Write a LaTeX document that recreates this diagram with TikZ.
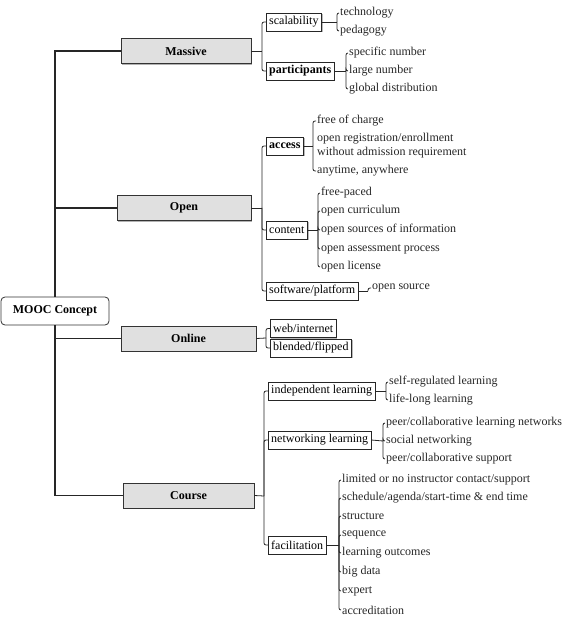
\documentclass[tikz,border=0pt]{standalone}
\usepackage{fontspec}
\setmainfont{Liberation Serif}
\usetikzlibrary{shadows}

\tikzset{
  mainbox/.style={draw=black!80, thick, fill=black!12, minimum height=25pt, font=\fontsize{12}{14}\selectfont\bfseries,
    drop shadow={shadow xshift=1.2pt, shadow yshift=-1.2pt, fill=black!60}},
  subbox/.style={draw=black!85, fill=white, anchor=west, inner xsep=3pt, inner ysep=2pt, minimum height=18pt, font=\fontsize{12}{14}\selectfont,
    drop shadow={shadow xshift=1pt, shadow yshift=-1pt, fill=black!55}},
  leaf/.style={anchor=west, inner sep=1pt, text=black!85, font=\fontsize{12}{14}\selectfont},
  link/.style={draw=black!85, line width=1.2pt},
  hook/.style={draw=black!85, line width=0.8pt, rounded corners=2pt}
}

\begin{document}
\begin{tikzpicture}[x=1pt, y=-1pt]
\useasboundingbox (0,0) rectangle (562,617);

% root and main branches
\node[draw=black!80, thick, rounded corners=4pt, fill=white, minimum width=108pt, minimum height=28pt,
  font=\fontsize{12}{14}\selectfont\bfseries] (mooc) at (55,311) {MOOC Concept};
\node[mainbox, minimum width=130pt] (massive) at (186,51) {Massive};
\node[mainbox, minimum width=134pt] (open) at (184,208) {Open};
\node[mainbox, minimum width=135pt] (online) at (188.5,338.5) {Online};
\node[mainbox, minimum width=131pt] (course) at (188.5,495.5) {Course};

\path[link] (massive.west) -| (mooc.north);
\path[link] (open.west) -| (mooc.north);
\path[link] (online.west) -| (mooc.south);
\path[link] (course.west) -| (mooc.south);

% Massive
\coordinate (mb) at (262,51);
\node[subbox] (scal) at (266,22) {scalability};
\node[subbox, font=\fontsize{12}{14}\selectfont\bfseries] (part) at (266,71) {participants};
\path[hook] (massive.east) -- (mb);
\path[hook] (mb) |- (scal.west);
\path[hook] (mb) |- (part.west);

\coordinate (sb) at (337,22);
\node[leaf] (tech) at (339,13) {technology};
\node[leaf] (peda) at (339,31) {pedagogy};
\path[hook] (scal.east) -- (sb);
\path[hook] (sb) |- (tech.west);
\path[hook] (sb) |- (peda.west);

\coordinate (pb) at (346,71);
\node[leaf] (spec) at (348,53) {specific number};
\node[leaf] (large) at (348,71) {large number};
\node[leaf] (glob) at (348,89) {global distribution};
\path[hook] (part.east) -- (pb);
\path[hook] (pb) |- (spec.west);
\path[hook] (pb) |- (large.west);
\path[hook] (pb) |- (glob.west);

% Open
\coordinate (ob) at (262,208);
\node[subbox, font=\fontsize{12}{14}\selectfont\bfseries] (access) at (266,146) {access};
\node[subbox] (content) at (266,230) {content};
\node[subbox] (soft) at (266,291) {software/platform};
\path[hook] (open.east) -- (ob);
\path[hook] (ob) |- (access.west);
\path[hook] (ob) |- (content.west);
\path[hook] (ob) |- (soft.west);

\coordinate (ab) at (313,146);
\node[leaf] (free) at (316,121) {free of charge};
\node[leaf, align=left] (reg) at (316,146) {open registration/enrollment\\without admission requirement};
\node[leaf] (any) at (316,171) {anytime, anywhere};
\path[hook] (access.east) -- (ab);
\path[hook] (ab) |- (free.west);
\path[hook] (ab) |- (any.west);

\coordinate (cb) at (318,230);
\node[leaf] (paced) at (320,193) {free-paced};
\node[leaf] (curr) at (320,211) {open curriculum};
\node[leaf] (sources) at (320,230) {open sources of information};
\node[leaf] (assess) at (320,249) {open assessment process};
\node[leaf] (lic) at (320,267) {open license};
\path[hook] (content.east) -- (cb);
\path[hook] (cb) |- (paced.west);
\path[hook] (cb) |- (curr.west);
\path[hook] (cb) |- (sources.west);
\path[hook] (cb) |- (assess.west);
\path[hook] (cb) |- (lic.west);

\coordinate (swb) at (368,291);
\node[leaf] (osrc) at (371,288) {open source};
\path[hook] (soft.east) -- (swb);
\path[hook] (swb) |- (osrc.west);

% Online
\coordinate (onb) at (266,338);
\node[subbox] (web) at (270,328.5) {web/internet};
\node[subbox] (blend) at (270,348) {blended/flipped};
\path[hook] (online.east) -- (onb);
\path[hook] (onb) |- (web.west);
\path[hook] (onb) |- (blend.west);

% Course
\coordinate (cob) at (264,496);
\node[subbox] (indep) at (268,391) {independent learning};
\node[subbox] (netw) at (268,440) {networking learning};
\node[subbox] (facil) at (268,545) {facilitation};
\path[hook] (course.east) -- (cob);
\path[hook] (cob) |- (indep.west);
\path[hook] (cob) |- (netw.west);
\path[hook] (cob) |- (facil.west);

\coordinate (ib) at (386,391);
\node[leaf] (selfreg) at (388,382) {self-regulated learning};
\node[leaf] (life) at (388,400) {life-long learning};
\path[hook] (indep.east) -- (ib);
\path[hook] (ib) |- (selfreg.west);
\path[hook] (ib) |- (life.west);

\coordinate (nb) at (383,441);
\node[leaf] (peernet) at (385,423) {peer/collaborative learning networks};
\node[leaf] (social) at (385,441) {social networking};
\node[leaf] (peersup) at (385,459) {peer/collaborative support};
\path[hook] (netw.east) -- (nb);
\path[hook] (nb) |- (peernet.west);
\path[hook] (nb) |- (social.west);
\path[hook] (nb) |- (peersup.west);

\coordinate (fb) at (339,545);
\node[leaf] (limited) at (341,480) {limited or no instructor contact/support};
\node[leaf] (sched) at (341,498) {schedule/agenda/start-time \& end time};
\node[leaf] (struct) at (341,516) {structure};
\node[leaf] (seq) at (341,535) {sequence};
\node[leaf] (outc) at (341,553) {learning outcomes};
\node[leaf] (bigd) at (341,572) {big data};
\node[leaf] (expert) at (341,591) {expert};
\node[leaf] (accr) at (341,610) {accreditation};
\path[hook] (facil.east) -- (fb);
\path[hook] (fb) |- (limited.west);
\path[hook] (fb) |- (sched.west);
\path[hook] (fb) |- (struct.west);
\path[hook] (fb) |- (seq.west);
\path[hook] (fb) |- (outc.west);
\path[hook] (fb) |- (bigd.west);
\path[hook] (fb) |- (expert.west);
\path[hook] (fb) |- (accr.west);
\end{tikzpicture}
\end{document}
